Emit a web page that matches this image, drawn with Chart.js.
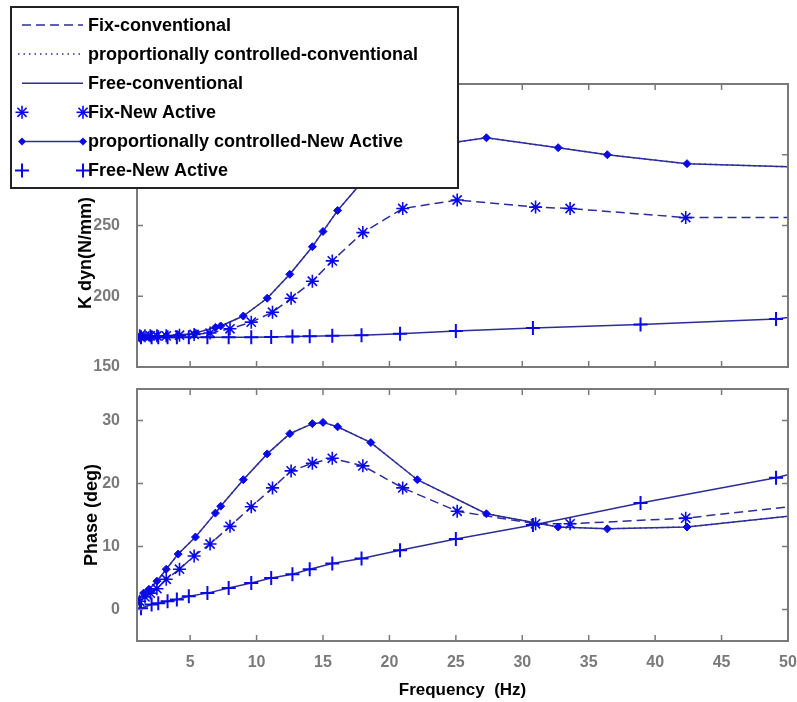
<!DOCTYPE html>
<html>
<head>
<meta charset="utf-8">
<script src="https://cdn.jsdelivr.net/npm/chart.js"></script>
<style>
  html, body { margin: 0; padding: 0; background: #fff; }
  #wrap { position: relative; width: 797px; height: 702px; }
  #wrap canvas { position: absolute; left: 0; }
</style>
</head>
<body>
<div id="wrap">
  <canvas id="kdyn" width="797" height="380" style="top:0"></canvas>
  <canvas id="phase" width="797" height="322" style="top:380px"></canvas>
</div>
<script>
// frequency ticks (Hz)
var freqTicks = [5, 10, 15, 20, 25, 30, 35, 40, 45, 50];
var kdynTicks = [150, 200, 250, 300, 350];
var phaseTicks = [0, 10, 20, 30];

// Fix
var fixFreq  = [1.2, 1.6, 2.0, 2.5, 3.2, 4.2, 5.3, 6.5, 8.0, 9.6, 11.2, 12.6, 14.2, 15.7, 18.0, 21.0, 25.1, 31.0, 33.6, 42.3, 50];
var fixKdyn  = [172, 172, 172, 172, 172, 172.5, 173, 174, 177, 181.7, 188.7, 198.6, 210.6, 225, 245, 262, 268, 263, 262, 255.6, 255.6];
var fixPhase = [1.3, 2.0, 2.6, 3.3, 4.8, 6.4, 8.5, 10.4, 13.2, 16.3, 19.3, 22.0, 23.2, 24.0, 22.8, 19.3, 15.6, 13.6, 13.6, 14.5, 16.3];

// proportionally controlled
var propFreq  = [1.1, 1.5, 1.9, 2.5, 3.2, 4.1, 5.4, 6.9, 7.3, 9.0, 10.8, 12.5, 14.2, 15.0, 16.1, 18.6, 22.1, 27.3, 32.7, 36.4, 42.4, 50];
var propKdyn  = [171, 171, 171, 171.5, 172, 172.5, 174, 178, 179, 186, 198.6, 215.5, 235, 245.8, 260.6, 288, 305, 312, 305, 300, 293.7, 291.5];
var propPhase = [1.3, 2.6, 3.2, 4.5, 6.4, 8.8, 11.5, 15.3, 16.4, 20.6, 24.7, 27.9, 29.5, 29.7, 29.0, 26.5, 20.6, 15.2, 13.1, 12.8, 13.1, 14.8];

// Free
var freeFreq  = [1.3, 2.1, 2.6, 3.3, 4.0, 4.9, 6.3, 7.9, 9.6, 11.1, 12.7, 14.0, 15.7, 17.9, 20.8, 25.0, 30.8, 38.9, 49.1, 50];
var freeKdyn  = [171, 171, 171, 171, 171, 171, 171, 171, 171, 171.2, 171.5, 171.8, 172, 172.5, 173.5, 175.5, 177.5, 180, 184, 185];
var freePhase = [0.2, 0.8, 1.0, 1.3, 1.6, 2.1, 2.6, 3.4, 4.2, 5.0, 5.6, 6.4, 7.3, 8.1, 9.4, 11.2, 13.4, 16.9, 20.9, 21.4];

var LINE = '#2d2d98';
var MARK = '#0a0ae6';
var AXIS = '#7a7a7a';
var FONT = "'Liberation Sans', Arial, sans-serif";

function pts(xs, ys) {
  return xs.map(function(x, i) { return { x: x, y: ys[i] }; });
}

// last point of each curve is only the line end, no marker
function markerRadius(r) {
  return function(c) { return c.dataIndex === c.dataset.data.length - 1 ? 0 : r; };
}

function makeDatasets(fixY, propY, freeY) {
  return [
    { label: 'Fix-conventional', data: pts(fixFreq, fixY), borderColor: LINE, borderWidth: 1.5,
      borderDash: [9, 5], pointRadius: 0, order: 1 },
    { label: 'proportionally controlled-conventional', data: pts(propFreq, propY), borderColor: LINE,
      borderWidth: 1.5, borderDash: [1.5, 4], pointRadius: 0, order: 1 },
    { label: 'Free-conventional', data: pts(freeFreq, freeY), borderColor: LINE, borderWidth: 1.5,
      pointRadius: 0, order: 1 },
    { label: 'Fix-New Active', data: pts(fixFreq, fixY), showLine: false, pointStyle: 'star',
      pointRadius: markerRadius(6.5), pointBorderColor: MARK, pointBorderWidth: 1.6, order: 0 },
    { label: 'proportionally controlled-New Active', data: pts(propFreq, propY), borderColor: LINE,
      borderWidth: 1.5, pointStyle: 'rectRot', pointRadius: markerRadius(4),
      pointBackgroundColor: MARK, pointBorderColor: MARK, pointBorderWidth: 1, order: 0 },
    { label: 'Free-New Active', data: pts(freeFreq, freeY), showLine: false, pointStyle: 'cross',
      pointRadius: markerRadius(7), pointBorderColor: MARK, pointBorderWidth: 2, order: 0 }
  ];
}

function strokeLine(ctx, x1, y1, x2, y2) {
  ctx.beginPath(); ctx.moveTo(x1, y1); ctx.lineTo(x2, y2); ctx.stroke();
}

function drawMarker(ctx, style, x, y) {
  ctx.save();
  ctx.strokeStyle = MARK; ctx.fillStyle = MARK; ctx.setLineDash([]);
  if (style === 'star') {
    ctx.lineWidth = 1.6;
    strokeLine(ctx, x - 6.5, y, x + 6.5, y); strokeLine(ctx, x, y - 6.5, x, y + 6.5);
    strokeLine(ctx, x - 4.6, y - 4.6, x + 4.6, y + 4.6); strokeLine(ctx, x - 4.6, y + 4.6, x + 4.6, y - 4.6);
  } else if (style === 'cross') {
    ctx.lineWidth = 2;
    strokeLine(ctx, x - 7, y, x + 7, y); strokeLine(ctx, x, y - 7, x, y + 7);
  } else if (style === 'rectRot') {
    ctx.beginPath(); ctx.moveTo(x, y - 4); ctx.lineTo(x + 4, y); ctx.lineTo(x, y + 4); ctx.lineTo(x - 4, y);
    ctx.closePath(); ctx.fill();
  }
  ctx.restore();
}

// MATLAB style box with inward ticks on all four sides
var boxPlugin = {
  id: 'matlabBox',
  afterDatasetsDraw: function(chart) {
    var a = chart.chartArea, ctx = chart.ctx;
    var sx = chart.scales.x, sy = chart.scales.y;
    ctx.save();
    ctx.strokeStyle = AXIS;
    ctx.lineWidth = 2;
    ctx.strokeRect(a.left, a.top, a.right - a.left, a.bottom - a.top);
    ctx.lineWidth = 1.5;
    sx.ticks.forEach(function(t) {
      var px = sx.getPixelForValue(t.value);
      strokeLine(ctx, px, a.bottom, px, a.bottom - 6);
      strokeLine(ctx, px, a.top, px, a.top + 6);
    });
    sy.ticks.forEach(function(t) {
      var py = sy.getPixelForValue(t.value);
      strokeLine(ctx, a.left, py, a.left + 6, py);
      strokeLine(ctx, a.right, py, a.right - 6, py);
    });
    ctx.restore();
  }
};

// legend box drawn over the top plot + its y title
var legendPlugin = {
  id: 'boxLegend',
  afterDraw: function(chart) {
    var ctx = chart.ctx;
    ctx.save();
    ctx.translate(86, 253);
    ctx.rotate(-Math.PI / 2);
    ctx.fillStyle = '#000';
    ctx.font = 'bold 18px ' + FONT;
    ctx.textAlign = 'center';
    ctx.textBaseline = 'middle';
    ctx.fillText('K dyn(N/mm)', 0, 0);
    ctx.restore();

    ctx.save();
    ctx.fillStyle = '#fff';
    ctx.fillRect(11, 7, 447, 181);
    ctx.strokeStyle = '#222';
    ctx.lineWidth = 2;
    ctx.strokeRect(11, 7, 447, 181);
    ctx.font = 'bold 18px ' + FONT;
    ctx.textBaseline = 'middle';
    chart.data.datasets.forEach(function(ds, i) {
      var y = 25 + i * 29.1;
      if (ds.showLine !== false) {
        ctx.strokeStyle = ds.borderColor;
        ctx.lineWidth = ds.borderWidth;
        ctx.setLineDash(ds.borderDash || []);
        strokeLine(ctx, ds.borderDash && ds.borderDash[0] < 3 ? 18 : 22, y, 83, y);
        ctx.setLineDash([]);
      }
      if (typeof ds.pointRadius === 'function') {
        drawMarker(ctx, ds.pointStyle, 22, y);
        drawMarker(ctx, ds.pointStyle, 83, y);
      }
      ctx.fillStyle = '#000';
      ctx.fillText(ds.label, 88, y + 1);
    });
    ctx.restore();
  }
};

function noPad(s) {
  s.paddingLeft = 0; s.paddingRight = 0; s.paddingTop = 0; s.paddingBottom = 0;
}

function xScale(showLabels, height) {
  return {
    type: 'linear', min: 1, max: 50,
    grid: { display: false }, border: { display: false },
    afterBuildTicks: function(s) { s.ticks = freqTicks.map(function(v) { return { value: v }; }); },
    afterFit: function(s) { s.height = height; noPad(s); },
    ticks: { display: showLabels, color: AXIS, padding: 4, maxRotation: 0, autoSkip: false,
      font: { family: FONT, size: 16, weight: 'bold' } },
    title: { display: showLabels, text: 'Frequency  (Hz)', color: '#000', padding: { top: 0, bottom: 1 },
      font: { family: FONT, size: 17, weight: 'bold' } }
  };
}

function yScale(min, max, tickVals, width, title) {
  return {
    type: 'linear', min: min, max: max,
    grid: { display: false }, border: { display: false },
    afterBuildTicks: function(s) { s.ticks = tickVals.map(function(v) { return { value: v }; }); },
    afterFit: function(s) { s.width = width; noPad(s); },
    ticks: { color: AXIS, padding: 9, font: { family: FONT, size: 16, weight: 'bold' } },
    title: { display: !!title, text: title || '', color: '#000', padding: 0,
      font: { family: FONT, size: 18, weight: 'bold' } }
  };
}

new Chart(document.getElementById('kdyn'), {
  type: 'line',
  data: { datasets: makeDatasets(fixKdyn, propKdyn, freeKdyn) },
  options: {
    responsive: false, animation: false, events: [],
    layout: { padding: { left: 77, top: 84, right: 8, bottom: 0 } },
    elements: { line: { tension: 0 } },
    plugins: { legend: { display: false }, tooltip: { enabled: false } },
    scales: { x: xScale(false, 13), y: yScale(150, 350, kdynTicks, 60, null) }
  },
  plugins: [boxPlugin, legendPlugin]
});

new Chart(document.getElementById('phase'), {
  type: 'line',
  data: { datasets: makeDatasets(fixPhase, propPhase, freePhase) },
  options: {
    responsive: false, animation: false, events: [],
    layout: { padding: { left: 81, top: 9, right: 8, bottom: 0 } },
    elements: { line: { tension: 0 } },
    plugins: { legend: { display: false }, tooltip: { enabled: false } },
    scales: { x: xScale(true, 61), y: yScale(-5, 35, phaseTicks, 56, 'Phase (deg)') }
  },
  plugins: [boxPlugin]
});
</script>
</body>
</html>
